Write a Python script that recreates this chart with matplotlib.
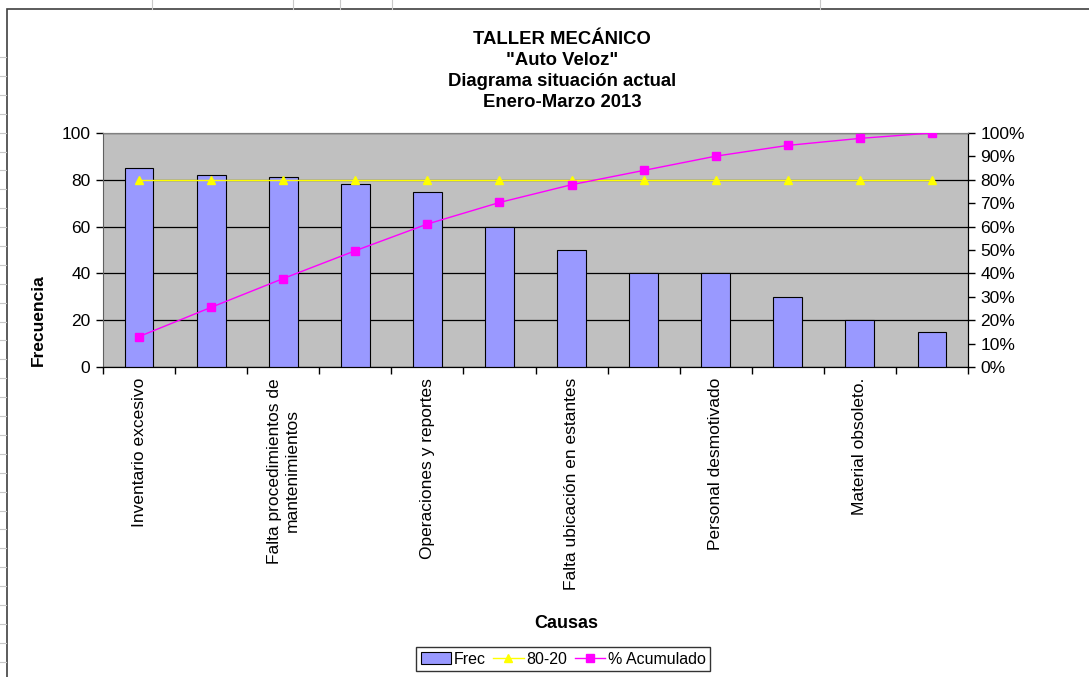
import matplotlib.pyplot as plt
import matplotlib.patches as mpatches
from matplotlib.lines import Line2D
from matplotlib.ticker import PercentFormatter, FixedLocator

plt.rcParams['font.family'] = ['Liberation Sans', 'DejaVu Sans']

# datos del diagrama de Pareto
causas = ["Inventario excesivo", "", "Falta procedimientos de\nmantenimientos", "",
          "Operaciones y reportes", "", "Falta ubicación en estantes", "",
          "Personal desmotivado", "", "Material obsoleto.", ""]
frec = [85, 82, 81, 78, 75, 60, 50, 40, 40, 30, 20, 15]
regla_80_20 = [0.8] * 12
acumulado = [0.13, 0.255, 0.378, 0.497, 0.611, 0.703, 0.779, 0.840, 0.901, 0.947, 0.977, 1.0]

W, H = 1089, 677
fig = plt.figure(figsize=(W / 100, H / 100), dpi=100)

# borde del area del grafico y lineas de la hoja detras
fig.add_artist(mpatches.Rectangle((7 / W, -0.05), 1.2, 1 - 9 / H + 0.05,
                                  transform=fig.transFigure, fill=False,
                                  edgecolor='#404040', linewidth=1.2))
for px in [152, 293, 340, 392, 820]:
    fig.add_artist(Line2D([px / W, px / W], [1 - 9 / H, 1], color='#C8C8C8', linewidth=0.8))
py = 57
while py < H:
    fig.add_artist(Line2D([0, 6 / W], [1 - py / H, 1 - py / H], color='#C8C8C8', linewidth=0.8))
    py += 18.9

ax = fig.add_axes([103 / W, 1 - 367 / H, 865 / W, 234 / H])
ax.set_facecolor('#C0C0C0')
x = list(range(len(frec)))
ax.bar(x, frec, width=0.4, color='#9999FF', edgecolor='black', linewidth=0.8, zorder=3)
ax.set_xlim(-0.5, len(frec) - 0.5)
ax.set_ylim(0, 100)
ax.set_yticks([0, 20, 40, 60, 80, 100])
ax.yaxis.grid(True, color='black', linewidth=0.9)
ax.set_axisbelow(True)
ax.tick_params(axis='y', labelsize=12.5, length=5, width=1, colors='black', pad=4)
ax.set_xticks(x)
ax.set_xticklabels(causas, rotation=90, fontsize=12.5, va='top', ha='center',
                   multialignment='center')
ax.tick_params(axis='x', which='major', length=0, pad=8)
ax.xaxis.set_minor_locator(FixedLocator([i - 0.5 for i in range(len(frec) + 1)]))
ax.tick_params(axis='x', which='minor', length=5, width=1)
ax.spines['top'].set_color('#808080')
ax.spines['left'].set_color('#606060')
ax.set_ylabel('Frecuencia', fontsize=12.5, fontweight='bold')
ax.yaxis.set_label_coords(-0.066, 0.2)
ax.set_xlabel('Causas', fontsize=13, fontweight='bold')
ax.xaxis.set_label_coords(0.535, -1.06)

ax2 = ax.twinx()
ax2.plot(x, regla_80_20, color='#FFFF00', linewidth=1, marker='^', markersize=6, zorder=4)
ax2.plot(x, acumulado, color='#FF00FF', linewidth=1, marker='s', markersize=6, zorder=5)
ax2.set_ylim(0, 1)
ax2.set_yticks([i / 10 for i in range(11)])
ax2.yaxis.set_major_formatter(PercentFormatter(1.0, decimals=0))
ax2.tick_params(axis='y', labelsize=12.5, length=5, width=1, pad=4)
ax2.spines['top'].set_color('#808080')
ax2.spines['left'].set_visible(False)

fig.text(0.516, 1 - 71 / H, 'TALLER MECÁNICO\n"Auto Veloz"\nDiagrama situación actual\nEnero-Marzo 2013',
         ha='center', va='center', fontsize=13.3, fontweight='bold', linespacing=1.32)

handles = [mpatches.Patch(facecolor='#9999FF', edgecolor='black', linewidth=0.8),
           Line2D([], [], color='#FFFF00', marker='^', markersize=6, linewidth=1),
           Line2D([], [], color='#FF00FF', marker='s', markersize=6, linewidth=1)]
leg = fig.legend(handles, ['Frec', '80-20', '% Acumulado'], loc='center',
                 bbox_to_anchor=(563 / W, 1 - 659 / H), ncol=3, fontsize=11.5,
                 frameon=True, fancybox=False, edgecolor='black', handlelength=1.9,
                 handletextpad=0.15, columnspacing=0.5, borderpad=0.3)
leg.get_frame().set_linewidth(1)

fig.savefig('out.png', dpi=100)
